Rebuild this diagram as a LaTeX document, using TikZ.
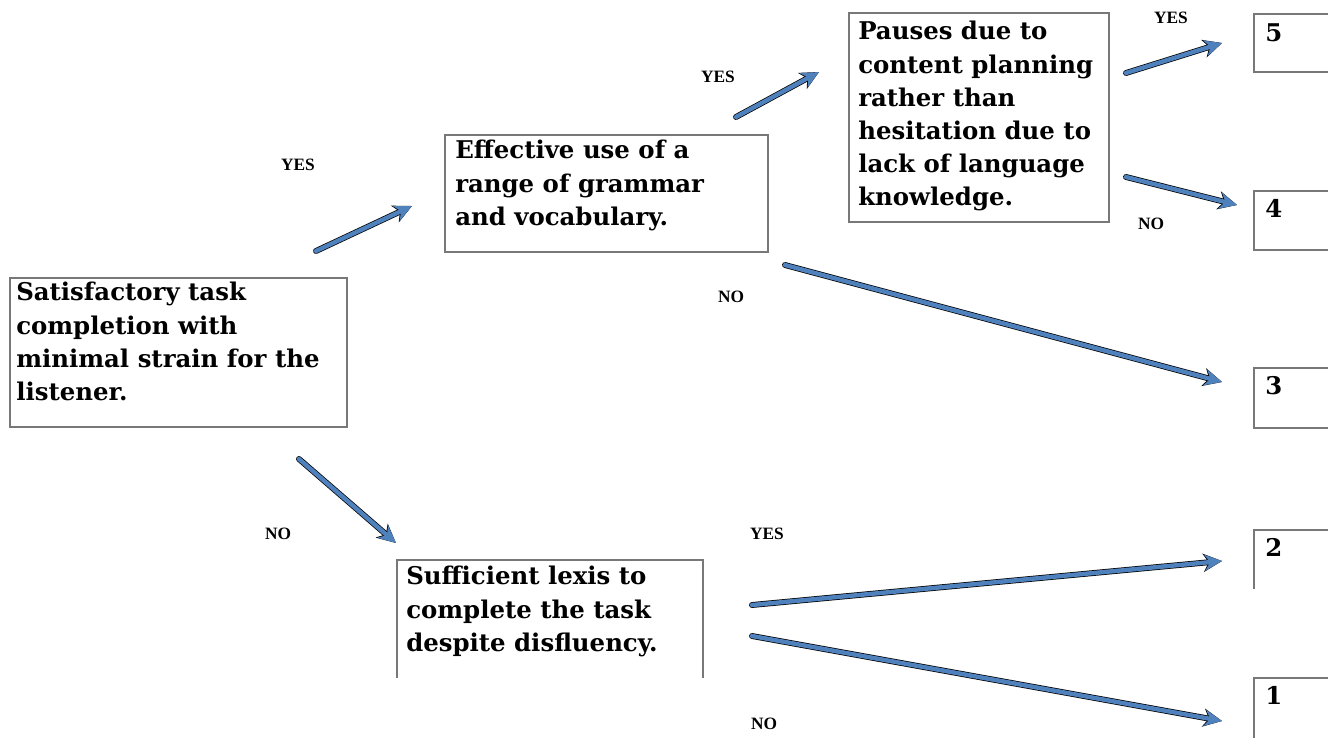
\documentclass[tikz,border=0pt]{standalone}
\usepackage{fontspec}
\setmainfont{DejaVu Serif}
\newfontfamily\labfont{Liberation Serif}
\usetikzlibrary{arrows.meta,fit}
\definecolor{arrowblue}{RGB}{79,129,189}
\definecolor{boxgray}{RGB}{120,120,120}
\tikzset{
  boxline/.style={draw=boxgray, line width=0.8pt},
  fitbox/.style={inner sep=0pt, outer sep=0pt},
  txt/.style={anchor=north west, inner sep=0pt, align=left,
    font=\fontsize{18.3pt}{24.9pt}\selectfont\bfseries},
  lab/.style={inner sep=0pt, font=\labfont\fontsize{13pt}{14pt}\selectfont\bfseries},
  shadowarrow/.style={draw=black, line width=4.4pt, line cap=round, xshift=1.4pt, yshift=-1.9pt,
    -{Stealth[length=14pt,width=13.5pt,inset=4pt]}},
  bluearrow/.style={draw=arrowblue, line width=3.3pt, line cap=round,
    -{Stealth[length=13pt,width=12pt,inset=4pt,fill=arrowblue]}},
}
\begin{document}
\begin{tikzpicture}[x=0.75pt,y=-0.75pt]
\useasboundingbox[fill=white] (0,0) rectangle (1328,738);
% boxes
\node[fitbox, boxline, fit={(10,278) (347,427)}] (A) {};
\node[txt] (Atext) at (16,282) {Satisfactory task\\completion with\\minimal strain for the\\listener.};
\node[fitbox, boxline, fit={(445,135) (768,252)}] (B) {};
\node[txt] (Btext) at (455,140) {Effective use of a\\range of grammar\\and vocabulary.};
\node[fitbox, boxline, fit={(849,13) (1109,222)}] (C) {};
\node[txt] (Ctext) at (858,21) {Pauses due to\\content planning\\rather than\\hesitation due to\\lack of language\\knowledge.};
\node[fitbox, fit={(397,560) (703,678)}] (D) {};
\draw[boxline] (D.south west) -- (D.north west) -- (D.north east) -- (D.south east);
\node[txt] (Dtext) at (406,566) {Sufficient lexis to\\complete the task\\despite disfluency.};
% score boxes
\node[fitbox, fit={(1254,14) (1328,72)}] (S5) {};
\draw[boxline] (S5.north east) -- (S5.north west) -- (S5.south west) -- (S5.south east);
\node[txt] (S5t) at (1265,23) {5};
\node[fitbox, fit={(1254,191) (1328,250)}] (S4) {};
\draw[boxline] (S4.north east) -- (S4.north west) -- (S4.south west) -- (S4.south east);
\node[txt] (S4t) at (1265,199) {4};
\node[fitbox, fit={(1254,368) (1328,428)}] (S3) {};
\draw[boxline] (S3.north east) -- (S3.north west) -- (S3.south west) -- (S3.south east);
\node[txt] (S3t) at (1265,376) {3};
\node[fitbox, fit={(1254,530) (1328,589)}] (S2) {};
\draw[boxline] (S2.north east) -- (S2.north west) -- (S2.south west);
\node[txt] (S2t) at (1265,538) {2};
\node[fitbox, fit={(1254,678) (1328,738)}] (S1) {};
\draw[boxline] (S1.north east) -- (S1.north west) -- (S1.south west);
\node[txt] (S1t) at (1265,686) {1};
% arrow end points
\coordinate (a1) at (316,251); \coordinate (b1) at (412,206);
\coordinate (a2) at (299,459); \coordinate (b2) at (396,543);
\coordinate (a3) at (736,117); \coordinate (b3) at (819,72);
\coordinate (a4) at (1126,73); \coordinate (b4) at (1222,43);
\coordinate (a5) at (1126,177); \coordinate (b5) at (1237,205);
\coordinate (a6) at (785,265); \coordinate (b6) at (1222,382);
\coordinate (a7) at (752,605); \coordinate (b7) at (1222,561);
\coordinate (a8) at (752,636); \coordinate (b8) at (1222,721);
\foreach \i in {1,...,8}{
  \draw[shadowarrow] (a\i) -- (b\i);
  \draw[bluearrow] (a\i) -- (b\i);
}
% labels
\node[lab] (l1) at (298,165) {YES};
\node[lab] (l2) at (278,534) {NO};
\node[lab] (l3) at (718,77) {YES};
\node[lab] (l4) at (1171,18) {YES};
\node[lab] (l5) at (1151,224) {NO};
\node[lab] (l6) at (731,297) {NO};
\node[lab] (l7) at (767,534) {YES};
\node[lab] (l8) at (764,724) {NO};
\end{tikzpicture}
\end{document}
